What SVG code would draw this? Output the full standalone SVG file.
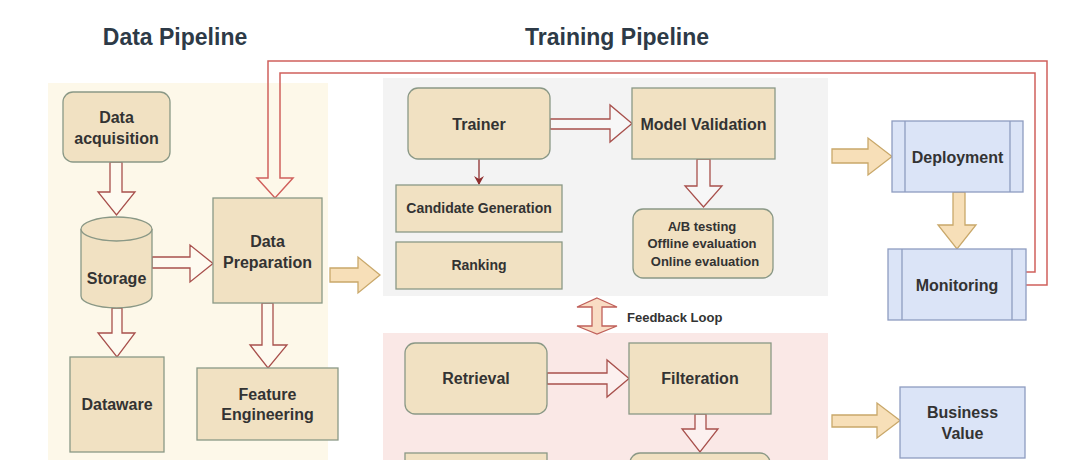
<svg xmlns="http://www.w3.org/2000/svg" width="1080" height="460" viewBox="0 0 1080 460">
<defs>
<style>
.t{font-family:"Liberation Sans",Arial,sans-serif;font-weight:bold;fill:#333;text-anchor:middle}
.title{font-size:23px;fill:#2d3a47}
.n{fill:#f1e1c2;stroke:#8a9886;stroke-width:1.3}
.b{fill:#dbe4f7;stroke:#8e9cc0;stroke-width:1.3}
.ha{fill:#fff;fill-opacity:0.35;stroke:#a8504c;stroke-width:1.3;stroke-linejoin:miter}
.oa{fill:#f7dfb8;stroke:#c9a86a;stroke-width:1.3}
.fa{fill:#f9dcc4;stroke:#c0605a;stroke-width:1.3}
.loop{fill:none;stroke:#d0605c;stroke-width:1.5}
</style>
<marker id="ah" markerWidth="10" markerHeight="10" refX="8" refY="5" orient="auto" markerUnits="userSpaceOnUse">
<path d="M0,0 L9,5 L0,10 L3,5 Z" fill="#8e2e2e"/>
</marker>
</defs>
<rect width="1080" height="460" fill="#fff"/>
<g id="backgrounds">
<rect x="48" y="83" width="280" height="380" fill="#fdf8e9"/>
<rect x="383" y="78" width="445" height="218" fill="#f3f3f3"/>
<rect x="383" y="333" width="445" height="130" fill="#fae8e6"/>
</g>
<g id="titles">
<text class="t title" x="175" y="45">Data Pipeline</text>
<text class="t title" x="617" y="45">Training Pipeline</text>
</g>
<g id="connectors">
<path class="loop" d="M1025,272 L1035,272 L1035,73 L280,73 L280,178 L293,178 L275,198 L257,178 L268,178 L268,61 L1047,61 L1047,285 L1025,285"/>
<polygon class="ha" points="110,162 122,162 122,192 135,192 116.5,215 98,192 110,192"/>
<polygon class="ha" points="152,257 190,257 190,245 213,263.5 190,282 190,268 152,268"/>
<polygon class="ha" points="112,308 122,308 122,333 135,333 117,357 98,333 112,333"/>
<polygon class="ha" points="262,303 273,303 273,345 287,345 268,368 250,345 262,345"/>
<polygon class="oa" points="330,268 358,268 358,257 380,275 358,293 358,282 330,282"/>
<polygon class="ha" points="550,119 610,119 610,105 632,123.5 610,142 610,129 550,129"/>
<line x1="479" y1="159" x2="479" y2="184" stroke="#8e2e2e" stroke-width="1.3" marker-end="url(#ah)"/>
<polygon class="ha" points="697,159 710,159 710,186 722,186 703.5,207 685,186 697,186"/>
<polygon class="oa" points="832,149 868,149 868,138 892,156.5 868,175 868,163 832,163"/>
<polygon class="oa" points="953,192 965,192 965,225 976,225 957,249 938,225 953,225"/>
<polygon class="oa" points="832,415 877,415 877,403 900,420.5 877,438 877,427 832,427"/>
<polygon class="fa" points="597,298 617,307 602,307 602,326 617,326 597,334 577,326 592,326 592,307 577,307"/>
<polygon class="ha" points="547,373 607,373 607,360 629,378.5 607,397 607,384 547,384"/>
<polygon class="ha" points="695,414 706,414 706,429 718,429 700,452 682,429 695,429"/>
</g>
<g id="data-acquisition">
<rect class="n" x="63" y="92" width="107" height="70" rx="10"/>
<text class="t" font-size="16" x="116.5" y="123">Data</text>
<text class="t" font-size="16" x="116.5" y="144">acquisition</text>
</g>
<g id="storage">
<path class="n" d="M81,229 A35.5,12 0 0 1 152,229 L152,296 A35.5,12 0 0 1 81,296 Z"/>
<path class="n" fill="none" d="M81,229 A35.5,12 0 0 0 152,229"/>
<text class="t" font-size="16" x="116.5" y="284">Storage</text>
</g>
<g id="data-preparation">
<rect class="n" x="213" y="198" width="109" height="105"/>
<text class="t" font-size="16" x="267.5" y="247">Data</text>
<text class="t" font-size="16" x="267.5" y="268">Preparation</text>
</g>
<g id="dataware">
<rect class="n" x="70" y="357" width="94" height="95"/>
<text class="t" font-size="16" x="117" y="410">Dataware</text>
</g>
<g id="feature-engineering">
<rect class="n" x="197" y="368" width="141" height="72"/>
<text class="t" font-size="16" x="267.5" y="400">Feature</text>
<text class="t" font-size="16" x="267.5" y="420">Engineering</text>
</g>
<g id="trainer">
<rect class="n" x="408" y="88" width="142" height="71" rx="10"/>
<text class="t" font-size="16" x="479" y="130">Trainer</text>
</g>
<g id="model-validation">
<rect class="n" x="632" y="88" width="143" height="71"/>
<text class="t" font-size="16" x="703.5" y="130">Model Validation</text>
</g>
<g id="candidate-generation">
<rect class="n" x="396" y="185" width="166" height="47"/>
<text class="t" font-size="14" x="479" y="213">Candidate Generation</text>
</g>
<g id="ranking">
<rect class="n" x="396" y="242" width="166" height="47"/>
<text class="t" font-size="14" x="479" y="270">Ranking</text>
</g>
<g id="evaluation">
<rect class="n" x="633" y="209" width="140" height="69" rx="10"/>
<text class="t" font-size="13" x="702" y="231">A/B testing</text>
<text class="t" font-size="13" x="702" y="248">Offline evaluation</text>
<text class="t" font-size="13" x="705" y="266">Online evaluation</text>
</g>
<g id="deployment">
<rect class="b" x="892" y="121" width="131" height="71"/>
<line x1="905" y1="121" x2="905" y2="192" stroke="#8e9cc0" stroke-width="1.3"/>
<line x1="1010" y1="121" x2="1010" y2="192" stroke="#8e9cc0" stroke-width="1.3"/>
<text class="t" font-size="16" x="957.5" y="163">Deployment</text>
</g>
<g id="monitoring">
<rect class="b" x="888" y="249" width="138" height="71"/>
<line x1="902" y1="249" x2="902" y2="320" stroke="#8e9cc0" stroke-width="1.3"/>
<line x1="1012" y1="249" x2="1012" y2="320" stroke="#8e9cc0" stroke-width="1.3"/>
<text class="t" font-size="16" x="957" y="291">Monitoring</text>
</g>
<g id="feedback-loop-label">
<text class="t" font-size="13" x="627" y="322" style="text-anchor:start">Feedback Loop</text>
</g>
<g id="retrieval">
<rect class="n" x="405" y="343" width="142" height="71" rx="10"/>
<text class="t" font-size="16" x="476" y="384">Retrieval</text>
</g>
<g id="filteration">
<rect class="n" x="629" y="343" width="142" height="71"/>
<text class="t" font-size="16" x="700" y="384">Filteration</text>
</g>
<g id="business-value">
<rect class="b" x="900" y="387" width="125" height="71"/>
<text class="t" font-size="16" x="962.5" y="418">Business</text>
<text class="t" font-size="16" x="962.5" y="439">Value</text>
</g>
<g id="bottom-left-node">
<rect class="n" x="405" y="453" width="142" height="40"/>
</g>
<g id="bottom-right-node">
<rect class="n" x="630" y="453" width="140" height="40" rx="10"/>
</g>
</svg>
